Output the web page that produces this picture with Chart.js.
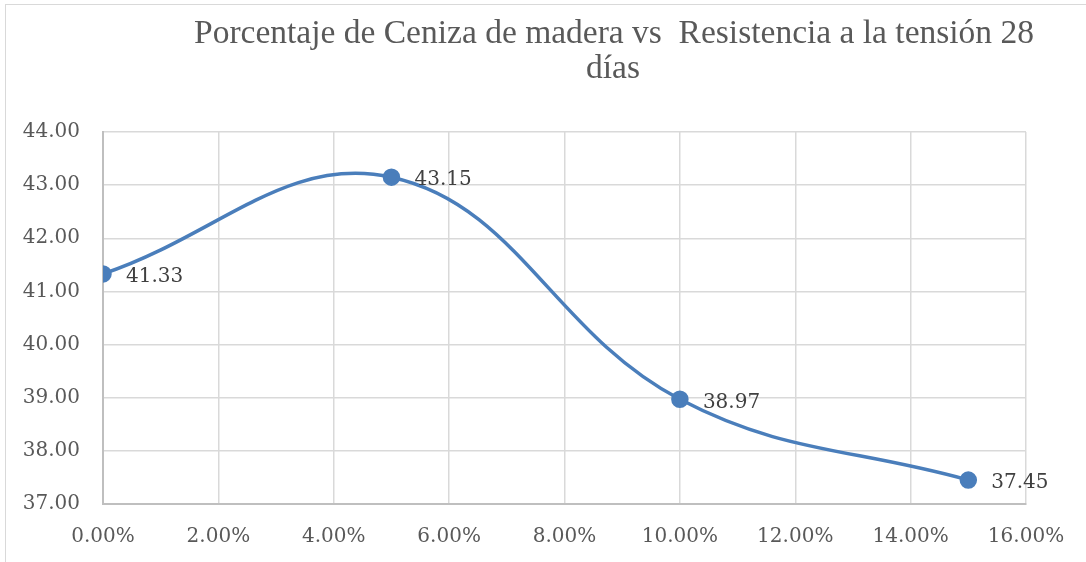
<!DOCTYPE html>
<html>
<head>
<meta charset="utf-8">
<script src="https://cdn.jsdelivr.net/npm/chart.js@4.4.0/dist/chart.umd.min.js"></script>
<style>
  html, body { margin: 0; padding: 0; background: #fff; }
  #wrap { position: relative; width: 1086px; height: 562px; overflow: hidden; }
  #frame { position: absolute; left: 5px; top: 4px; width: 1100px; height: 600px; border-left: 1.5px solid #d9d9d9; border-top: 1.5px solid #d9d9d9; pointer-events: none; }
  canvas { position: absolute; left: 0; top: 0; }
</style>
</head>
<body>
<div id="wrap">
  <canvas id="c" width="1086" height="562"></canvas>
  <div id="frame"></div>
</div>
<script>
const titleLines = ["Porcentaje de Ceniza de madera vs  Resistencia a la tensión 28", "días"];
const ashPercent = [0.00, 0.05, 0.10, 0.15];
const tensileStrength = [41.33, 43.15, 38.97, 37.45];
const xTickValues = [0, 0.02, 0.04, 0.06, 0.08, 0.10, 0.12, 0.14, 0.16];
const yTickValues = [37, 38, 39, 40, 41, 42, 43, 44];

const points = ashPercent.map((x, i) => ({ x: x, y: tensileStrength[i] }));

const titlePlugin = {
  id: 'customTitle',
  afterDraw(chart) {
    const ctx = chart.ctx;
    ctx.save();
    ctx.fillStyle = '#595959';
    ctx.font = '33.5px "Liberation Serif"';
    ctx.textAlign = 'center';
    ctx.textBaseline = 'alphabetic';
    ctx.fillText(titleLines[0], 614, 43);
    ctx.fillText(titleLines[1], 613, 78);
    ctx.restore();
  }
};

const labelPlugin = {
  id: 'pointLabels',
  afterDatasetsDraw(chart) {
    const ctx = chart.ctx;
    const meta = chart.getDatasetMeta(0);
    ctx.save();
    ctx.fillStyle = '#404040';
    ctx.font = '20px "DejaVu Serif"';
    ctx.textAlign = 'left';
    ctx.textBaseline = 'middle';
    meta.data.forEach((el, i) => {
      ctx.fillText(tensileStrength[i].toFixed(2), el.x + 23, el.y + 3);
    });
    ctx.restore();
  }
};

new Chart(document.getElementById('c'), {
  type: 'line',
  data: {
    datasets: [{
      data: points,
      borderColor: '#4a7ebb',
      backgroundColor: '#4a7ebb',
      borderWidth: 3.5,
      pointRadius: 7,
      pointHoverRadius: 7,
      pointBackgroundColor: '#4a7ebb',
      pointBorderColor: '#4a7ebb',
      tension: 0.4,
      fill: false
    }]
  },
  options: {
    responsive: false,
    animation: false,
    devicePixelRatio: 1,
    layout: { padding: { left: 13, right: 60, top: 132, bottom: 0 } },
    plugins: { legend: { display: false }, tooltip: { enabled: false }, title: { display: false } },
    scales: {
      x: {
        type: 'linear',
        min: 0, max: 0.16,
        afterBuildTicks(scale) { scale.ticks = xTickValues.map(v => ({ value: v })); },
        afterFit(scale) { scale.height = 58; },
        ticks: {
          color: '#595959',
          font: { family: 'DejaVu Serif', size: 20 },
          padding: 21,
          maxRotation: 0,
          autoSkip: false,
          callback: (v) => (v * 100).toFixed(2) + '%'
        },
        grid: { color: '#d9d9d9', lineWidth: 1.5, drawTicks: false },
        border: { color: '#bfbfbf', width: 2 }
      },
      y: {
        type: 'linear',
        min: 37, max: 44,
        afterBuildTicks(scale) { scale.ticks = yTickValues.map(v => ({ value: v })); },
        afterFit(scale) { scale.width = 90; },
        ticks: {
          color: '#595959',
          font: { family: 'DejaVu Serif', size: 20 },
          padding: 23,
          autoSkip: false,
          callback: (v) => v.toFixed(2)
        },
        grid: { color: '#d9d9d9', lineWidth: 1.5, drawTicks: false },
        border: { color: '#bfbfbf', width: 2 }
      }
    }
  },
  plugins: [titlePlugin, labelPlugin]
});
</script>
</body>
</html>
